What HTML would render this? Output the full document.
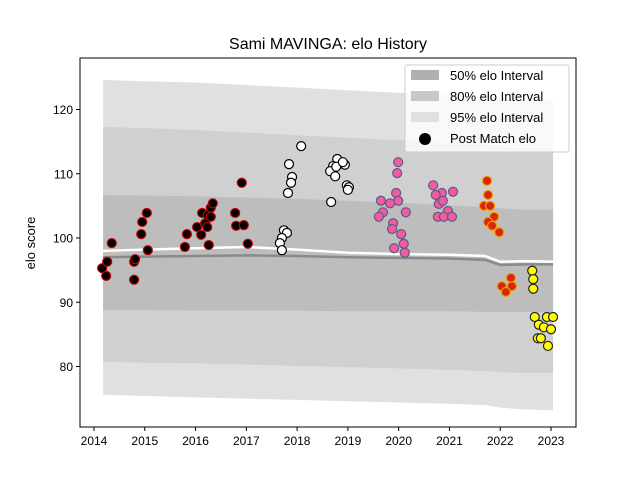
<!DOCTYPE html>
<html><head><meta charset="utf-8"><style>
body{margin:0;background:#fff;width:640px;height:480px;overflow:hidden;font-family:"Liberation Sans","DejaVu Sans",sans-serif}
</style></head><body>
<svg id="chart" width="640" height="480" xmlns="http://www.w3.org/2000/svg" font-family="Liberation Sans, DejaVu Sans, sans-serif">
<text x="328" y="49" font-size="16" text-anchor="middle">Sami MAVINGA: elo History</text>
<text transform="translate(35,243) rotate(-90)" font-size="13" text-anchor="middle">elo score</text>
<g id="bands"></g><g id="lines"></g><g id="pts"></g><g id="axes"></g>
<g>
<rect x="405" y="65" width="164" height="87" fill="#fff" fill-opacity="0.8" stroke="#ccc" rx="2"/>
<rect x="411" y="70" width="28" height="10" fill="#b0b0b0"/>
<text x="450" y="80" font-size="13">50% elo Interval</text>
<rect x="411" y="91" width="28" height="10" fill="#c8c8c8"/>
<text x="450" y="101" font-size="13">80% elo Interval</text>
<rect x="411" y="112" width="28" height="10" fill="#e0e0e0"/>
<text x="450" y="122" font-size="13">95% elo Interval</text>
<circle cx="425" cy="139" r="6" fill="#000"/>
<text x="450" y="143" font-size="13">Post Match elo</text>
</g>
</svg>
<script>
const bandYears=[2014.18,2015,2016,2017,2018,2019,2020,2021,2021.7,2022,2022.5,2023.04];
const up95=[124.6,124.4,124.2,123.8,123.4,123,122.6,122.2,121.9,121.7,121.5,121.5];
const lo95=[75.6,75.4,75.2,75.0,74.8,74.6,74.4,74.2,74,73.6,73.3,73.2];
const up80=[117.3,117.1,116.8,116.4,116,115.6,115.2,114.8,114.5,114.2,114,114];
const lo80=[80.7,80.6,80.5,80.3,80.1,79.9,79.7,79.5,79.3,79.1,79,79];
const up50=[106.7,106.6,106.5,106.3,106.1,105.8,105.5,105.1,104.8,104.6,104.4,104.4];
const lo50=[88.8,88.8,88.7,88.7,88.7,88.6,88.6,88.6,88.5,88.5,88.5,88.5];
const median=[98.0,98.2,98.4,98.6,98.2,97.7,97.5,97.4,97.2,96.3,96.4,96.3];
const medGrey=[97.0,97.1,97.2,97.3,97.2,97.0,96.9,96.8,96.6,95.8,95.9,95.9];
const groups=[
 {fill:"#000",stroke:"#c00000",pts:[[2014.16,95.3],[2014.26,96.3],[2014.24,94.1],[2014.35,99.2],[2014.79,96.3],[2014.81,96.7],[2014.93,100.6],[2014.95,102.5],[2015.04,103.9],[2014.79,93.5],[2015.83,100.6],[2015.79,98.6],[2016.03,101.7],[2016.11,100.5],[2016.13,103.9],[2016.19,102.3],[2016.23,101.7],[2016.24,103.6],[2016.30,104.7],[2016.34,105.4],[2016.30,103.3],[2016.26,98.9],[2015.06,98.1],[2016.78,103.9],[2016.80,101.9],[2016.95,102.0],[2016.91,108.6],[2017.03,99.1]]},
 {fill:"#fff",stroke:"#000",pts:[[2018.08,114.3],[2017.84,111.5],[2017.90,109.5],[2017.88,108.6],[2017.82,107.0],[2017.74,101.2],[2017.80,100.8],[2017.70,100.0],[2017.66,99.2],[2017.70,98.1],[2018.79,112.3],[2018.71,111.2],[2018.65,110.4],[2018.77,111.1],[2018.75,109.6],[2018.94,111.4],[2018.90,111.8],[2018.98,108.2],[2019.02,107.9],[2019.00,107.5],[2018.67,105.6]]},
 {fill:"#f45b9a",stroke:"#5a5a8c",pts:[[2019.99,111.8],[2019.97,110.1],[2019.95,107.0],[2019.99,105.8],[2019.83,105.4],[2019.65,105.8],[2019.69,104.0],[2019.61,103.3],[2020.14,104.0],[2019.89,102.3],[2019.87,101.4],[2020.05,100.6],[2020.10,99.1],[2019.91,98.4],[2020.12,97.7],[2020.68,108.2],[2020.85,107.0],[2021.07,107.2],[2020.73,106.7],[2020.79,105.3],[2020.87,105.8],[2020.97,104.2],[2020.77,103.3],[2020.89,103.3],[2021.05,103.3]]},
 {fill:"#d6280f",stroke:"#f0a000",pts:[[2021.74,108.9],[2021.76,106.7],[2021.68,105.0],[2021.80,105.0],[2021.88,103.3],[2021.76,102.5],[2021.84,101.9],[2021.98,100.9],[2022.21,93.8],[2022.03,92.5],[2022.23,92.5],[2022.11,91.6]]},
 {fill:"#ffff00",stroke:"#222",pts:[[2022.63,94.9],[2022.65,93.6],[2022.65,92.1],[2022.68,87.7],[2022.92,87.7],[2023.04,87.7],[2022.76,86.5],[2022.86,86.1],[2023.00,85.8],[2022.74,84.4],[2022.80,84.4],[2022.94,83.2]]}
];
const xTicks=[2014,2015,2016,2017,2018,2019,2020,2021,2022,2023];
const yTicks=[80,90,100,110,120];
const L=80,R=576,T=58,B=427;
const x=v=>94+(v-2014)*50.78;
const y=v=>238-(v-100)*6.425;
const NS="http://www.w3.org/2000/svg";
function mk(t,a,p){const e=document.createElementNS(NS,t);for(const k in a)e.setAttribute(k,a[k]);p.appendChild(e);return e;}
const bands=document.getElementById('bands');
function band(u,l,c,name){
 let d="M"+bandYears.map((t,i)=>x(t)+","+y(u[i])).join("L");
 d+="L"+bandYears.map((t,i)=>x(t)+","+y(l[i])).reverse().join("L")+"Z";
 const p=mk('path',{d:d,fill:c},bands);
 
 
}
band(up95,lo95,"#e0e0e0","band-95");
band(up80,lo80,"#d0d0d0","band-80");
band(up50,lo50,"#bdbdbd","band-50");
const lines=document.getElementById('lines');
function line(arr,c,w,name){
 const p=mk('polyline',{points:bandYears.map((t,i)=>x(t)+","+y(arr[i])).join(" "),fill:"none",stroke:c,"stroke-width":w},lines);
 
 
}
line(medGrey,"#8a8a8a",2.5,"median-grey-line");
line(median,"#fff",2.5,"median-line");
const pts=document.getElementById('pts');
groups.forEach((g,gi)=>g.pts.forEach(p=>{
 const c=mk('circle',{cx:x(p[0]),cy:y(p[1]),r:4.5,fill:g.fill,stroke:g.stroke,"stroke-width":1.2},pts);
 
 
}));
const ax=document.getElementById('axes');
const fr=mk('rect',{x:L,y:T,width:R-L,height:B-T,fill:"none",stroke:"#000","stroke-width":1},ax);


xTicks.forEach(t=>{
 mk('line',{x1:x(t),x2:x(t),y1:B,y2:B+4,stroke:"#000"},ax);
 const tx=mk('text',{x:x(t),y:B+18,"font-size":12,"text-anchor":"middle"},ax);
 tx.textContent=t;
 
 
});
yTicks.forEach(t=>{
 mk('line',{x1:L-4,x2:L,y1:y(t),y2:y(t),stroke:"#000"},ax);
 const tx=mk('text',{x:L-7,y:y(t)+4.5,"font-size":12,"text-anchor":"end"},ax);
 tx.textContent=t;
 
 
});
</script>
</body></html>
